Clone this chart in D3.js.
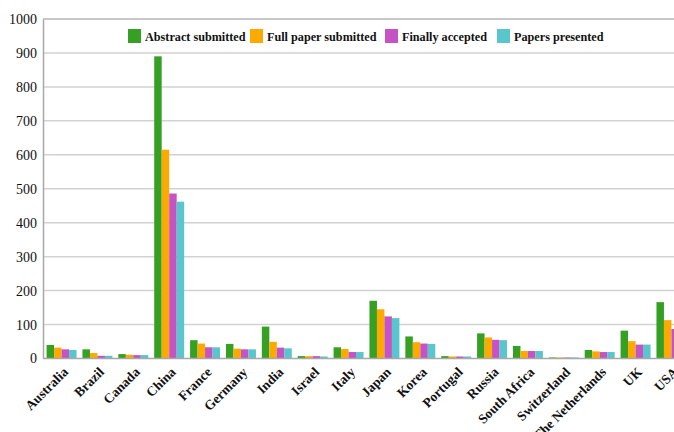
<!DOCTYPE html>
<html>
<head>
<meta charset="utf-8">
<script src="https://cdn.jsdelivr.net/npm/d3@7"></script>
<style>
  body { margin: 0; background: #fff; }
  svg { display: block; }
  svg text { font-family: "Liberation Serif", "Times New Roman", serif; }
</style>
</head>
<body>
<svg id="chart" width="674" height="432"></svg>
<script>
// Data
var countries = ["Australia","Brazil","Canada","China","France","Germany","India","Israel","Italy",
                 "Japan","Korea","Portugal","Russia","South Africa","Switzerland","The Netherlands","UK","USA"];
var series_names = ["Abstract submitted","Full paper submitted","Finally accepted","Papers presented"];
var abstract_submitted = [40,27,13,890,54,43,94,7,33,170,65,7,74,37,3,25,82,166];
var full_paper_submitted = [32,16,11,615,44,29,49,7,28,145,48,6,62,22,3,21,51,113];
var finally_accepted = [27,8,10,486,33,27,32,7,19,124,44,6,55,22,3,19,41,87];
var papers_presented = [25,8,10,462,33,27,30,6,19,119,43,6,54,22,3,19,41,80];
var y_ticks = [0,100,200,300,400,500,600,700,800,900,1000];

var series_values = [abstract_submitted, full_paper_submitted, finally_accepted, papers_presented];
var series_colors = ["#35a024","#fdaa00","#c553c4","#58c6cc"];

var svg = d3.select("#chart");
var font_family = "Liberation Serif";

// plot area (runs past the right edge, the original is cut there too)
var plot_left = 43, plot_top = 19, plot_bottom = 358.5, plot_right = 690;

var x = d3.scaleBand().domain(countries).range([plot_left, plot_right]).paddingInner(0.165).paddingOuter(0.1);
var x_inner = d3.scaleBand().domain(d3.range(series_names.length)).range([0, x.bandwidth()]);
var y = d3.scaleLinear().domain([0, 1000]).range([plot_bottom, plot_top]);

// gridlines
svg.append("g")
    .selectAll("line")
    .data(y_ticks.filter(function (t) { return t > 0 && t < 1000; }))
    .enter()
    .append("line")
    .attr("x1", plot_left).attr("x2", 674)
    .attr("y1", function (d) { return y(d); })
    .attr("y2", function (d) { return y(d); })
    .attr("stroke", "#d2d2d2")
    .attr("stroke-width", 1.5);

// top frame line
svg.append("line")
    .attr("x1", plot_left).attr("x2", 674)
    .attr("y1", y(1000)).attr("y2", y(1000))
    .attr("stroke", "#b4b4b4").attr("stroke-width", 1.5);

// bars
var groups = svg.append("g")
    .selectAll("g")
    .data(countries)
    .enter()
    .append("g")
    .attr("transform", function (d) { return "translate(" + x(d) + ",0)"; });

groups.selectAll("rect")
    .data(function (d, i) { return series_values.map(function (s, k) { return { k: k, v: s[i] }; }); })
    .enter()
    .append("rect")
    .attr("x", function (d) { return x_inner(d.k); })
    .attr("width", x_inner.bandwidth())
    .attr("y", function (d) { return y(d.v); })
    .attr("height", function (d) { return plot_bottom - y(d.v); })
    .attr("fill", function (d) { return series_colors[d.k]; });

// y axis
var y_axis = svg.append("g")
    .attr("transform", "translate(" + plot_left + ",0)")
    .call(d3.axisLeft(y).tickValues(y_ticks).tickFormat(d3.format("d")).tickSize(0).tickPadding(6))
    .attr("font-family", font_family)
    .attr("font-size", 14);
y_axis.select(".domain").attr("stroke", "#a8a8a8").attr("stroke-width", 1.5);
y_axis.selectAll("text").attr("fill", "#111");

// x axis
var x_axis = svg.append("g")
    .attr("transform", "translate(0," + plot_bottom + ")")
    .call(d3.axisBottom(x).tickSize(0).tickPadding(0))
    .attr("font-family", font_family)
    .attr("font-size", 13.5)
    .attr("font-weight", "bold");
x_axis.select(".domain").attr("d", "M" + plot_left + ",0H674").attr("stroke", "#a8a8a8").attr("stroke-width", 1.5);
x_axis.selectAll("text")
    .attr("fill", "#111")
    .attr("text-anchor", "end")
    .attr("dy", "0.35em")
    .attr("transform", "translate(4,11) rotate(-45)");

// legend
var legend_x = [128, 250, 385, 497];
var legend = svg.append("g")
    .attr("font-family", font_family)
    .attr("font-size", 12.2)
    .attr("font-weight", "bold")
    .selectAll("g")
    .data(series_names)
    .enter()
    .append("g")
    .attr("transform", function (d, i) { return "translate(" + legend_x[i] + ",29)"; });
legend.append("rect")
    .attr("width", 13).attr("height", 14)
    .attr("fill", function (d, i) { return series_colors[i]; });
legend.append("text")
    .attr("x", 17).attr("y", 11.5)
    .attr("fill", "#111")
    .text(function (d) { return d; });
</script>
</body>
</html>
